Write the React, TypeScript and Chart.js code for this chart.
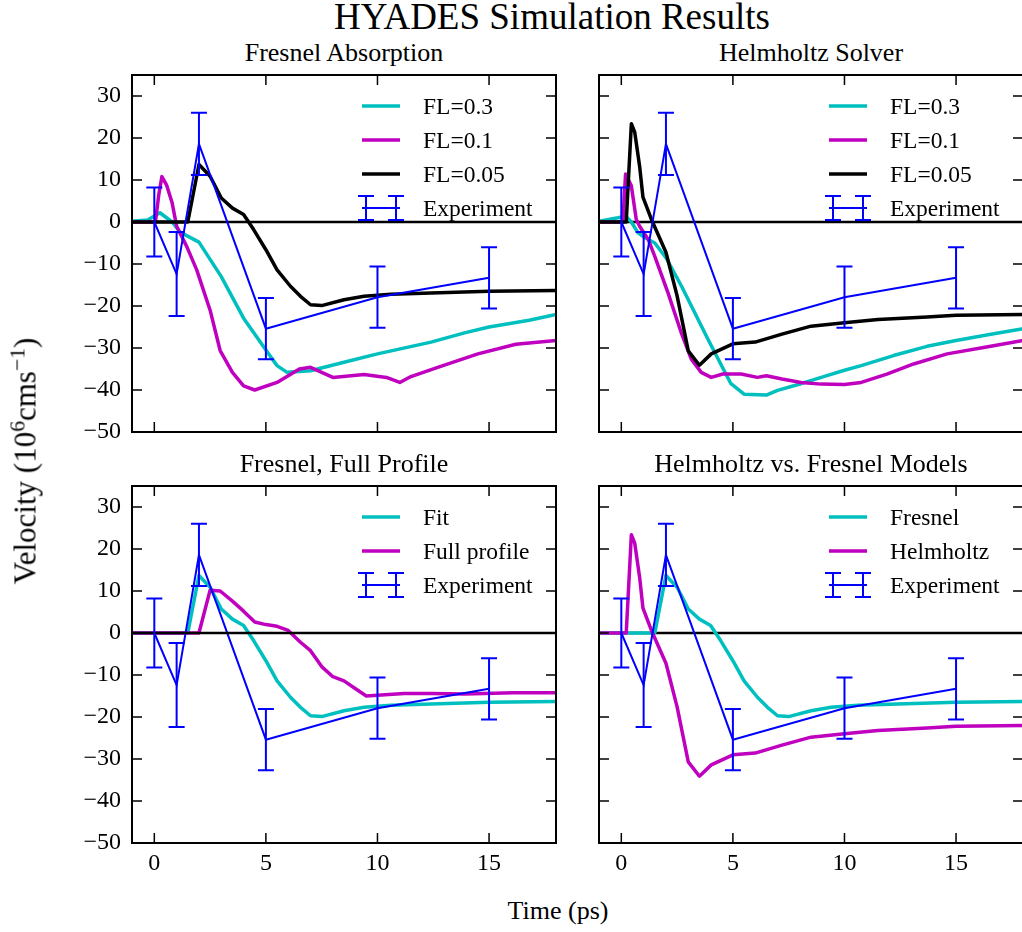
import React, { useEffect, useRef } from "react";
import { Chart, registerables } from "chart.js";

Chart.register(...registerables);

const FONT = "'Liberation Serif', 'Times New Roman', Times, serif";
const CYAN = "#00bfbf";
const MAGENTA = "#bf00bf";
const BLACK = "#000000";
const BLUE = "#0000ff";

// ---------- data ----------
const xTicks = [0, 5, 10, 15];
const yTicks = [-50, -40, -30, -20, -10, 0, 10, 20, 30];

// Experiment (time in ps, velocity in 10^6 cm/s, error)
const expTime = [0, 1, 2, 5, 10, 15];
const expVel = [0, -12.4, 18.6, -25.4, -17.9, -13.3];
const expErr = [8.2, 10, 7.4, 7.3, 7.3, 7.3];

// Fresnel absorption, FL=0.3
const fresFL03Time = [-1, -0.3, 0.25, 0.8, 1.15, 2.0, 3.0, 4.0, 5.0, 5.5, 5.95, 7.0, 8.5, 10.0, 12.4, 13.9, 15.0, 16.8, 18];
const fresFL03Vel = [0.2, 0.5, 2.2, 0, -2.4, -4.8, -13, -22.9, -30.5, -34.2, -35.8, -35.4, -33.4, -31.4, -28.6, -26.4, -25, -23.4, -22];

// Fresnel absorption, FL=0.1
const fresFL01Time = [-1, 0.05, 0.2, 0.34, 0.55, 0.8, 1.0, 1.45, 1.9, 2.5, 2.95, 3.5, 4.0, 4.5, 5.5, 6.5, 7.0, 8.0, 9.4, 10.4, 11.0, 11.5, 12.7, 14.5, 16.2, 18];
const fresFL01Vel = [0, 0, 6.5, 10.8, 8.8, 4.5, -1, -5.8, -11.4, -21, -30.6, -35.8, -39, -40, -38.2, -35, -34.6, -37, -36.3, -37, -38.2, -36.8, -34.6, -31.4, -29.1, -28.2];

// Fresnel absorption, FL=0.05 (also the "Fit" / "Fresnel" curve)
const fresFL005Time = [-1, 1.5, 2.0, 2.5, 3.0, 3.5, 4.0, 4.45, 5.0, 5.5, 6.1, 6.55, 7.0, 7.5, 8.5, 9.4, 10.6, 12.4, 15, 18];
const fresFL005Vel = [0, 0, 13.7, 10.9, 5.7, 3.3, 1.8, -1.8, -6.6, -11.4, -15.3, -17.7, -19.7, -19.9, -18.5, -17.7, -17.2, -16.9, -16.5, -16.3];

// Helmholtz solver, FL=0.3
const helmFL03Time = [-1, -0.15, 0.2, 0.45, 0.75, 1.05, 1.5, 2.0, 2.7, 3.9, 4.9, 5.5, 6.5, 7.0, 8.05, 9.25, 10.0, 10.75, 12.2, 13.7, 15.0, 16.5, 18];
const helmFL03Vel = [0.2, 1, 1.4, 0, -2.6, -3.7, -5, -8.5, -15.3, -28.1, -38.4, -41, -41.2, -40.1, -38.5, -36.5, -35.3, -34.2, -31.8, -29.6, -28.2, -26.8, -25.4];

// Helmholtz solver, FL=0.1
const helmFL01Time = [-1, 0.07, 0.19, 0.45, 0.67, 0.82, 1.2, 1.5, 2.1, 2.7, 3.13, 3.58, 4.03, 4.55, 5.37, 6.1, 6.5, 7.2, 8.05, 8.95, 10, 10.75, 11.9, 13.1, 14.6, 16.3, 18];
const helmFL01Vel = [0, 0, 11.4, 8.6, 0.6, -1, -4.1, -8.2, -17, -26.6, -32.6, -35.8, -37, -36.2, -36.2, -37, -36.6, -37.4, -38.2, -38.6, -38.7, -38.2, -36.2, -33.8, -31.4, -29.8, -28.2];

// Helmholtz solver, FL=0.05 (also the "Helmholtz" curve)
const helmFL005Time = [-1, 0.22, 0.45, 0.6, 0.82, 0.97, 1.35, 2.0, 2.5, 3.0, 3.5, 4.03, 5.0, 6.0, 7.2, 8.5, 10, 11.5, 13.7, 15, 18];
const helmFL005Vel = [0, 0, 23.4, 21.4, 13.3, 5.9, 0.6, -7.2, -17.6, -30.7, -34.1, -31.4, -29, -28.6, -26.7, -24.8, -24, -23.2, -22.6, -22.2, -22];

// Fresnel, full profile
const fullProfTime = [-1, 2.0, 2.5, 2.95, 3.5, 4.0, 4.5, 5.0, 5.5, 6.0, 6.55, 7.0, 7.5, 8.0, 8.5, 9.0, 9.5, 10, 11.2, 12.4, 13.9, 16.1, 18];
const fullProfVel = [0, 0, 10.2, 10, 7.6, 5.2, 2.6, 2.0, 1.6, 0.6, -2.2, -4.2, -8, -10.4, -11.4, -13.2, -15, -14.8, -14.4, -14.4, -14.5, -14.2, -14.2];

// ---------- layout ----------
type Series = { label: string; t: number[]; v: number[]; color: string };
type PanelDef = {
  title: string;
  left: number;
  top: number;
  xLabels: boolean;
  yLabels: boolean;
  zeroOnTop: boolean;
  series: Series[];
};

const AREA_W = 424;
const AREA_H = 357;
const WL = 90;
const PT = 6;
const PR = 6;
const HB = 50;

const panels: PanelDef[] = [
  {
    title: "Fresnel Absorption", left: 132, top: 75, xLabels: false, yLabels: true, zeroOnTop: false,
    series: [
      { label: "FL=0.3", t: fresFL03Time, v: fresFL03Vel, color: CYAN },
      { label: "FL=0.1", t: fresFL01Time, v: fresFL01Vel, color: MAGENTA },
      { label: "FL=0.05", t: fresFL005Time, v: fresFL005Vel, color: BLACK },
    ],
  },
  {
    title: "Helmholtz Solver", left: 599, top: 75, xLabels: false, yLabels: false, zeroOnTop: false,
    series: [
      { label: "FL=0.3", t: helmFL03Time, v: helmFL03Vel, color: CYAN },
      { label: "FL=0.1", t: helmFL01Time, v: helmFL01Vel, color: MAGENTA },
      { label: "FL=0.05", t: helmFL005Time, v: helmFL005Vel, color: BLACK },
    ],
  },
  {
    title: "Fresnel, Full Profile", left: 132, top: 486, xLabels: true, yLabels: true, zeroOnTop: true,
    series: [
      { label: "Fit", t: fresFL005Time, v: fresFL005Vel, color: CYAN },
      { label: "Full profile", t: fullProfTime, v: fullProfVel, color: MAGENTA },
    ],
  },
  {
    title: "Helmholtz vs. Fresnel Models", left: 599, top: 486, xLabels: true, yLabels: false, zeroOnTop: false,
    series: [
      { label: "Fresnel", t: fresFL005Time, v: fresFL005Vel, color: CYAN },
      { label: "Helmholtz", t: helmFL005Time, v: helmFL005Vel, color: MAGENTA },
    ],
  },
];

const fmt = (v: number) => (v < 0 ? "\u2212" + Math.abs(v) : String(v));

function makeDecor(p: PanelDef) {
  const drawZero = (chart: any) => {
    const { ctx, chartArea: a, scales } = chart;
    const y0 = scales.y.getPixelForValue(0);
    ctx.save();
    ctx.strokeStyle = BLACK;
    ctx.lineWidth = 2.5;
    ctx.beginPath();
    ctx.moveTo(a.left, y0);
    ctx.lineTo(a.right, y0);
    ctx.stroke();
    ctx.restore();
  };
  return {
    id: "decor",
    beforeDatasetsDraw(chart: any) {
      if (!p.zeroOnTop) drawZero(chart);
    },
    afterDatasetsDraw(chart: any) {
      if (p.zeroOnTop) drawZero(chart);
      const { ctx, chartArea: a, scales } = chart;
      const xs = scales.x;
      const ys = scales.y;
      ctx.save();
      // error bars
      const CAP = 8;
      ctx.strokeStyle = BLUE;
      ctx.lineWidth = 2;
      expTime.forEach((t, i) => {
        const px = xs.getPixelForValue(t);
        const top = ys.getPixelForValue(expVel[i] + expErr[i]);
        const bot = ys.getPixelForValue(expVel[i] - expErr[i]);
        ctx.beginPath();
        ctx.moveTo(px, top);
        ctx.lineTo(px, bot);
        ctx.moveTo(px - CAP, top);
        ctx.lineTo(px + CAP, top);
        ctx.moveTo(px - CAP, bot);
        ctx.lineTo(px + CAP, bot);
        ctx.stroke();
      });
      // inward ticks on all four sides
      ctx.strokeStyle = BLACK;
      ctx.lineWidth = 1.5;
      const TL = 10;
      ctx.beginPath();
      xTicks.forEach((v) => {
        const px = xs.getPixelForValue(v);
        ctx.moveTo(px, a.bottom);
        ctx.lineTo(px, a.bottom - TL);
        ctx.moveTo(px, a.top);
        ctx.lineTo(px, a.top + TL);
      });
      yTicks.forEach((v) => {
        const py = ys.getPixelForValue(v);
        ctx.moveTo(a.left, py);
        ctx.lineTo(a.left + TL, py);
        ctx.moveTo(a.right, py);
        ctx.lineTo(a.right - TL, py);
      });
      ctx.stroke();
      // frame
      ctx.lineWidth = 2;
      ctx.strokeRect(a.left, a.top, a.right - a.left, a.bottom - a.top);
      // legend
      const entries = [
        ...p.series.map((s) => ({ label: s.label, color: s.color, err: false })),
        { label: "Experiment", color: BLUE, err: true },
      ];
      const hx0 = a.right - 194;
      const hx1 = a.right - 156;
      const tx = a.right - 133;
      ctx.font = `23.5px ${FONT}`;
      ctx.textAlign = "left";
      ctx.textBaseline = "alphabetic";
      entries.forEach((e, i) => {
        const ry = a.top + 31 + 34 * i;
        ctx.strokeStyle = e.color;
        if (e.err) {
          ctx.lineWidth = 2;
          ctx.beginPath();
          ctx.moveTo(hx0, ry);
          ctx.lineTo(hx1, ry);
          [hx0 + 4, hx1 - 4].forEach((bx) => {
            ctx.moveTo(bx, ry - 12);
            ctx.lineTo(bx, ry + 12);
            ctx.moveTo(bx - 8, ry - 12);
            ctx.lineTo(bx + 8, ry - 12);
            ctx.moveTo(bx - 8, ry + 12);
            ctx.lineTo(bx + 8, ry + 12);
          });
          ctx.stroke();
        } else {
          ctx.lineWidth = 3.5;
          ctx.beginPath();
          ctx.moveTo(hx0, ry);
          ctx.lineTo(hx1, ry);
          ctx.stroke();
        }
        ctx.fillStyle = BLACK;
        ctx.fillText(e.label, tx, ry + 7.8);
      });
      ctx.restore();
    },
  };
}

const zeroPadding = (s: any) => {
  s.paddingTop = 0;
  s.paddingBottom = 0;
  s.paddingLeft = 0;
  s.paddingRight = 0;
};

function Panel({ p }: { p: PanelDef }) {
  const ref = useRef<HTMLCanvasElement>(null);
  const cw = WL + AREA_W + PR;
  const ch = PT + AREA_H + HB;
  useEffect(() => {
    if (!ref.current) return;
    const n = p.series.length;
    const datasets: any[] = p.series.map((s, i) => ({
      label: s.label,
      data: s.t.map((t, k) => ({ x: t, y: s.v[k] })),
      borderColor: s.color,
      backgroundColor: s.color,
      borderWidth: 3.5,
      borderJoinStyle: "round",
      pointRadius: 0,
      tension: 0,
      fill: false,
      order: n + 1 - i,
    }));
    datasets.push({
      label: "Experiment",
      data: expTime.map((t, k) => ({ x: t, y: expVel[k] })),
      borderColor: BLUE,
      backgroundColor: BLUE,
      borderWidth: 2,
      pointRadius: 0,
      tension: 0,
      fill: false,
      order: 0,
    });
    const tickFont = { family: FONT, size: 24 };
    const chart = new Chart(ref.current, {
      type: "line",
      data: { datasets },
      options: {
        animation: false,
        responsive: false,
        events: [],
        layout: { padding: { top: PT, right: PR, left: 0, bottom: 0 }, autoPadding: false },
        plugins: {
          legend: { display: false },
          tooltip: { enabled: false },
          title: { display: false },
        },
        scales: {
          x: {
            type: "linear",
            min: -1,
            max: 18,
            afterBuildTicks: (s: any) => {
              s.ticks = xTicks.map((v) => ({ value: v }));
            },
            afterFit: (s: any) => {
              s.height = HB;
              zeroPadding(s);
            },
            grid: { display: false, drawTicks: false },
            border: { display: false },
            ticks: {
              display: p.xLabels,
              padding: 6,
              color: BLACK,
              font: tickFont,
              maxRotation: 0,
              autoSkip: false,
              callback: (v: any) => fmt(Number(v)),
            },
          },
          y: {
            type: "linear",
            min: -50,
            max: 35,
            afterBuildTicks: (s: any) => {
              s.ticks = yTicks.map((v) => ({ value: v }));
            },
            afterFit: (s: any) => {
              s.width = WL;
              zeroPadding(s);
            },
            grid: { display: false, drawTicks: false },
            border: { display: false },
            ticks: {
              display: p.yLabels,
              padding: 11,
              color: BLACK,
              font: tickFont,
              autoSkip: false,
              callback: (v: any) => fmt(Number(v)),
            },
          },
        },
      } as any,
      plugins: [makeDecor(p)],
    });
    return () => chart.destroy();
  }, [p]);
  return (
    <div style={{ position: "absolute", left: p.left - WL, top: p.top - PT, width: cw, height: ch }}>
      <canvas ref={ref} width={cw} height={ch} style={{ width: cw, height: ch, display: "block" }} />
    </div>
  );
}

function Label({ x, y, size, children, rotate }: { x: number; y: number; size: number; children: any; rotate?: boolean }) {
  return (
    <div
      style={{
        position: "absolute",
        left: x,
        top: y,
        transform: rotate ? "translate(-50%,-50%) rotate(-90deg)" : "translate(-50%,-50%)",
        fontSize: size,
        lineHeight: 1,
        whiteSpace: "nowrap",
        fontFamily: FONT,
        color: BLACK,
      }}
    >
      {children}
    </div>
  );
}

const supStyle = { fontSize: "0.7em", verticalAlign: "0.5em", lineHeight: 0 };

export default function App() {
  return (
    <div
      style={{
        position: "absolute",
        left: 0,
        top: 0,
        width: 1022,
        height: 932,
        overflow: "hidden",
        background: "#fff",
      }}
    >
      {panels.map((p) => (
        <Panel key={p.title} p={p} />
      ))}
      <Label x={552} y={16} size={37}>HYADES Simulation Results</Label>
      {panels.map((p) => (
        <Label key={"t" + p.title} x={p.left + AREA_W / 2} y={p.top - 22} size={26}>
          {p.title}
        </Label>
      ))}
      <Label x={558} y={911} size={26}>Time (ps)</Label>
      <Label x={25} y={461} size={31} rotate>
        Velocity (10<sup style={supStyle}>6</sup>cms<sup style={supStyle}>{"\u22121"}</sup>)
      </Label>
    </div>
  );
}
